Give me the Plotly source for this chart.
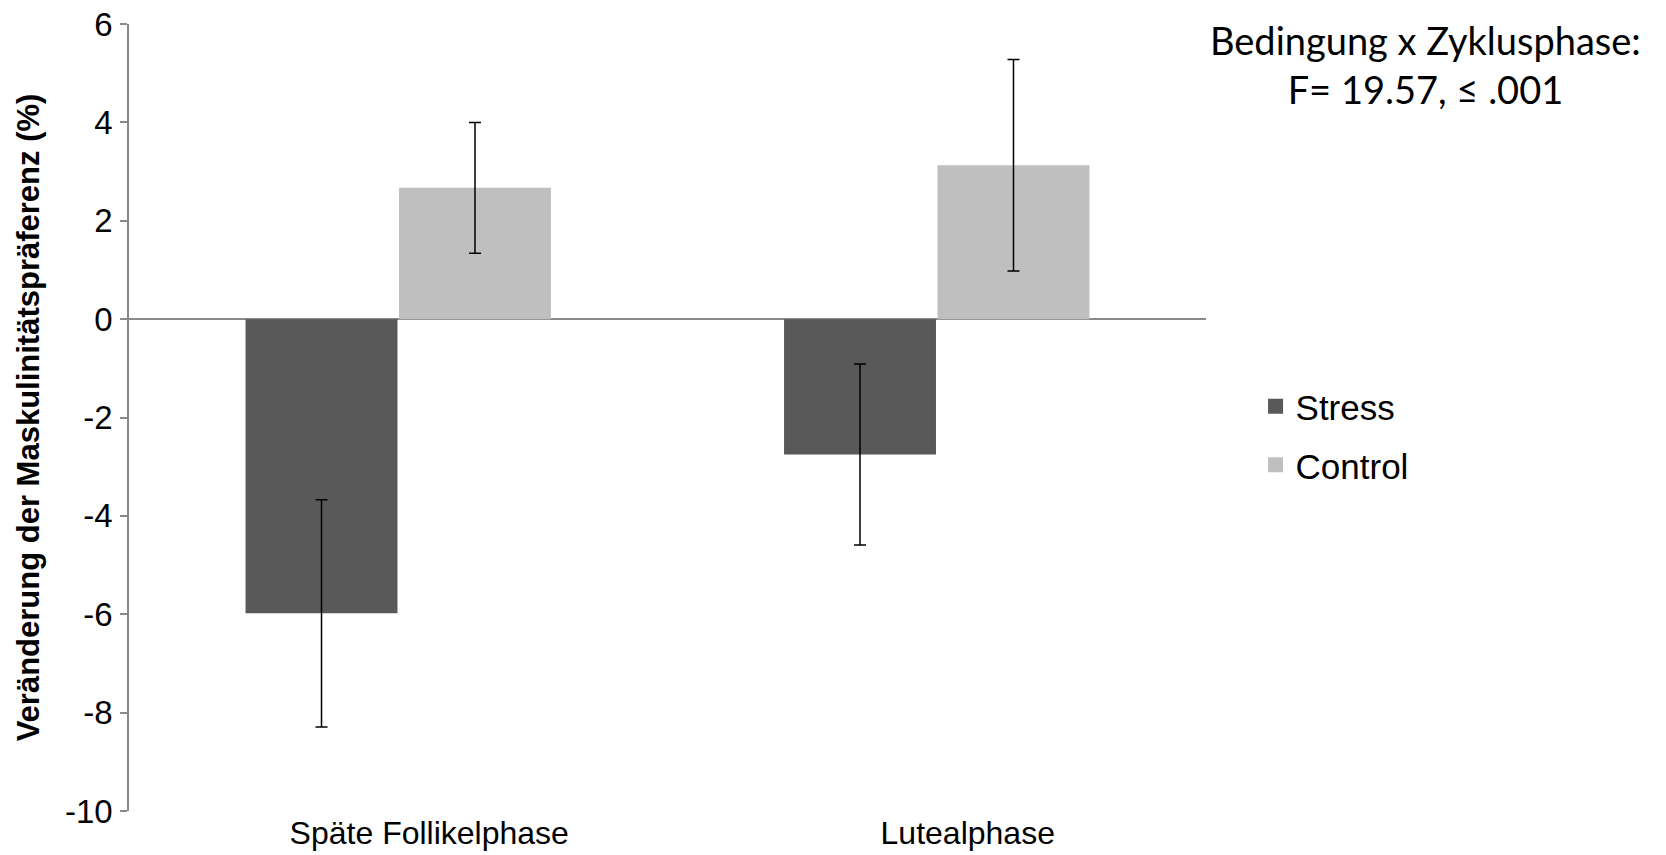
import plotly.graph_objects as go

# Data
phases = ["Späte Follikelphase", "Lutealphase"]
stress_values = [-5.98, -2.75]
stress_errors = [2.31, 1.84]
control_values = [2.67, 3.13]
control_errors = [1.33, 2.15]
y_ticks = [6, 4, 2, 0, -2, -4, -6, -8, -10]

stress_color = "#595959"
control_color = "#BFBFBF"
axis_color = "#898989"
font_family = "Liberation Sans, Arial, sans-serif"

fig = go.Figure()

for name, vals, errs, color in [
    ("Stress", stress_values, stress_errors, stress_color),
    ("Control", control_values, control_errors, control_color),
]:
    fig.add_trace(go.Bar(
        x=phases, y=vals, name=name,
        marker=dict(color=color, line=dict(width=0)),
        error_y=dict(type="data", array=errs, visible=True,
                     color="black", thickness=1.5, width=6),
        showlegend=False,
    ))

# Legend entries with larger square swatches
for name, color in [("Stress", stress_color), ("Control", control_color)]:
    fig.add_trace(go.Scatter(
        x=[None], y=[None], mode="markers", name=name, legendgroup=name,
        marker=dict(symbol="square", size=15, color=color),
    ))

fig.update_layout(
    width=1666, height=855,
    margin=dict(l=129, r=460, t=24, b=44),
    paper_bgcolor="white", plot_bgcolor="white",
    barmode="group", bargap=0.43, bargroupgap=0.01,
    font=dict(family=font_family, color="black"),
    showlegend=True,
    legend=dict(
        x=1.046, xanchor="left", y=0.477, yanchor="middle",
        font=dict(size=35, family=font_family),
        tracegroupgap=10, itemwidth=30,
        bgcolor="rgba(0,0,0,0)",
    ),
    annotations=[dict(
        text="Bedingung x Zyklusphase:<br>F= 19.57, ≤ .001",
        xref="paper", yref="paper", x=1.204, y=0.949,
        xanchor="center", yanchor="middle", showarrow=False,
        font=dict(size=38, family="Lato, sans-serif", color="black"),
        align="center",
    )],
)

fig.update_xaxes(
    automargin=False,
    showline=False, ticks="", showgrid=False, zeroline=False,
    tickfont=dict(size=32, family=font_family),
    ticklabelstandoff=0, ticklabelshift=31,
)

fig.update_yaxes(
    automargin=False,
    range=[-10, 6], tickvals=y_ticks, ticktext=[str(v) for v in y_ticks],
    showline=True, linecolor=axis_color, linewidth=1.5,
    ticks="outside", ticklen=7, tickwidth=1.5, tickcolor=axis_color,
    showgrid=False,
    zeroline=True, zerolinecolor=axis_color, zerolinewidth=2,
    tickfont=dict(size=33, family=font_family),
    ticklabelstandoff=1,
    title=dict(text="<b>Veränderung der Maskulinitätspräferenz (%)</b>",
               font=dict(size=31, family=font_family), standoff=16),
)

fig.write_html("out.html")
